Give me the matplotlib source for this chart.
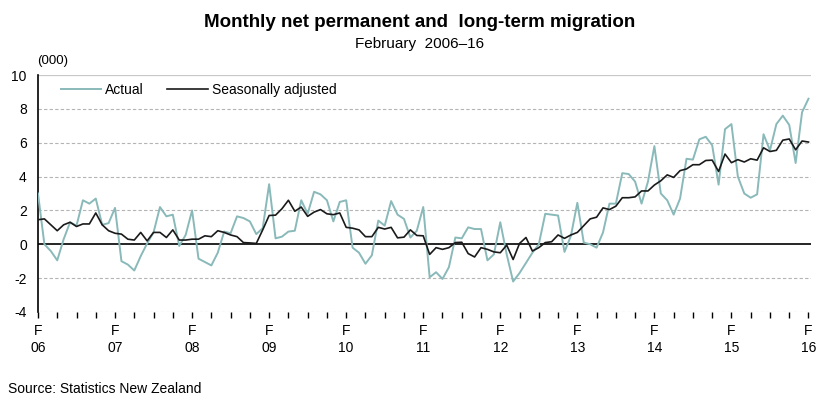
import numpy as np
import matplotlib.pyplot as plt
from matplotlib.ticker import FixedLocator

# monthly values, Feb 2006 .. Feb 2016 (000)
actual = [3.0, 0.0, -0.4, -0.95, 0.3, 1.3, 1.1, 2.6, 2.4, 2.7, 1.15, 1.25,
          2.15, -1.0, -1.2, -1.55, -0.7, 0.05, 0.7, 2.2, 1.65, 1.75, -0.1, 0.55,
          2.0, -0.85, -1.05, -1.25, -0.5, 0.75, 0.65, 1.65, 1.55, 1.35, 0.6, 0.95,
          3.55, 0.35, 0.45, 0.75, 0.8, 2.6, 1.8, 3.1, 2.95, 2.6, 1.35, 2.5,
          2.6, -0.2, -0.5, -1.15, -0.65, 1.4, 1.1, 2.55, 1.75, 1.5, 0.4, 0.8,
          2.2, -1.95, -1.65, -2.05, -1.35, 0.4, 0.35, 1.0, 0.9, 0.9, -0.95, -0.6,
          1.3, -0.6, -2.2, -1.7, -1.1, -0.5, 0.0, 1.8, 1.75, 1.7, -0.45, 0.5,
          2.45, 0.1, 0.0, -0.2, 0.7, 2.4, 2.4, 4.2, 4.15, 3.7, 2.4, 3.7,
          5.8, 3.0, 2.6, 1.75, 2.7, 5.05, 5.0, 6.2, 6.35, 5.85, 3.52, 6.8,
          7.1, 4.0, 3.0, 2.75, 2.95, 6.5, 5.55, 7.1, 7.6, 7.05, 4.8, 7.8,
          8.6]

seas_adj = [1.45, 1.5, 1.15, 0.8, 1.15, 1.3, 1.05, 1.2, 1.2, 1.85, 1.15, 0.8,
            0.65, 0.6, 0.3, 0.25, 0.7, 0.2, 0.7, 0.7, 0.4, 0.85, 0.25, 0.25,
            0.3, 0.3, 0.5, 0.45, 0.8, 0.7, 0.55, 0.45, 0.1, 0.08, 0.05, 0.85,
            1.7, 1.72, 2.1, 2.6, 1.95, 2.2, 1.65, 1.9, 2.05, 1.8, 1.75, 1.85,
            1.0, 0.95, 0.85, 0.45, 0.45, 1.0, 0.9, 1.0, 0.38, 0.42, 0.85, 0.52,
            0.5, -0.6, -0.2, -0.3, -0.2, 0.1, 0.12, -0.55, -0.75, -0.2, -0.3, -0.45,
            -0.5, -0.05, -0.9, 0.05, 0.4, -0.4, -0.2, 0.1, 0.15, 0.55, 0.35, 0.55,
            0.7, 1.1, 1.5, 1.6, 2.15, 2.05, 2.25, 2.75, 2.75, 2.8, 3.15, 3.15,
            3.5, 3.75, 4.1, 3.95, 4.35, 4.45, 4.7, 4.7, 4.95, 4.97, 4.3, 5.33,
            4.82, 5.0, 4.86, 5.05, 4.97, 5.7, 5.48, 5.55, 6.15, 6.22, 5.58, 6.1,
            6.04]

year_labels = ['06', '07', '08', '09', '10', '11', '12', '13', '14', '15', '16']
y_ticks = [-4, -2, 0, 2, 4, 6, 8, 10]

narrow = ['Liberation Sans Narrow', 'Liberation Sans', 'DejaVu Sans']
plt.rcParams['font.family'] = ['Liberation Sans', 'DejaVu Sans']

months = np.arange(len(actual))

fig = plt.figure(figsize=(8.31, 4.13), dpi=100)
ax = fig.add_axes([0.0457, 0.2446, 0.9303, 0.5738])

for v in y_ticks:
    if v == 0:
        continue
    if v == 10:
        ax.axhline(v, color='#c8c8c8', lw=0.9, zorder=1)
    else:
        ax.axhline(v, color='#b4b4b4', lw=0.8, ls=(0, (3, 2)), zorder=1)
ax.axhline(0, color='black', lw=1.2, zorder=2)

ax.plot(months, actual, color='#8ab9b9', lw=1.4, label='Actual', zorder=3)
ax.plot(months, seas_adj, color='#1a1a1a', lw=1.2, label='Seasonally adjusted', zorder=4)

ax.set_xlim(0, 120.4)
ax.set_ylim(-4, 10)
ax.set_yticks(y_ticks)
ax.set_yticklabels([str(v) for v in y_ticks], fontsize=10)
ax.tick_params(axis='y', length=0, pad=8)

ax.set_xticks(np.arange(0, 121, 12))
ax.set_xticklabels(['F\n' + y for y in year_labels], fontsize=10, linespacing=1.25)
ax.xaxis.set_minor_locator(FixedLocator(np.arange(0, 121, 3)))
ax.tick_params(axis='x', which='both', length=4, width=1, direction='out', pad=5)

for s in ['top', 'right', 'bottom']:
    ax.spines[s].set_visible(False)
ax.spines['left'].set_linewidth(1.2)

ax.legend(loc='upper left', bbox_to_anchor=(0.013, 1.02), ncol=2, frameon=False,
          fontsize=10, handlelength=2.9, handletextpad=0.3, columnspacing=1.7)

fig.text(0.505, 0.945, 'Monthly net permanent and  long-term migration', ha='center',
         va='center', fontsize=13.5, fontweight='bold', family=narrow)
fig.text(0.505, 0.893, 'February  2006\u201316', ha='center', va='center',
         fontsize=11, family=narrow)
fig.text(0.045, 0.852, '(000)', ha='left', va='center', fontsize=9.5, family=narrow)
fig.text(0.01, 0.057, 'Source: Statistics New Zealand', ha='left', va='center',
         fontsize=10, family=narrow)

plt.savefig('out.png', dpi=100)
